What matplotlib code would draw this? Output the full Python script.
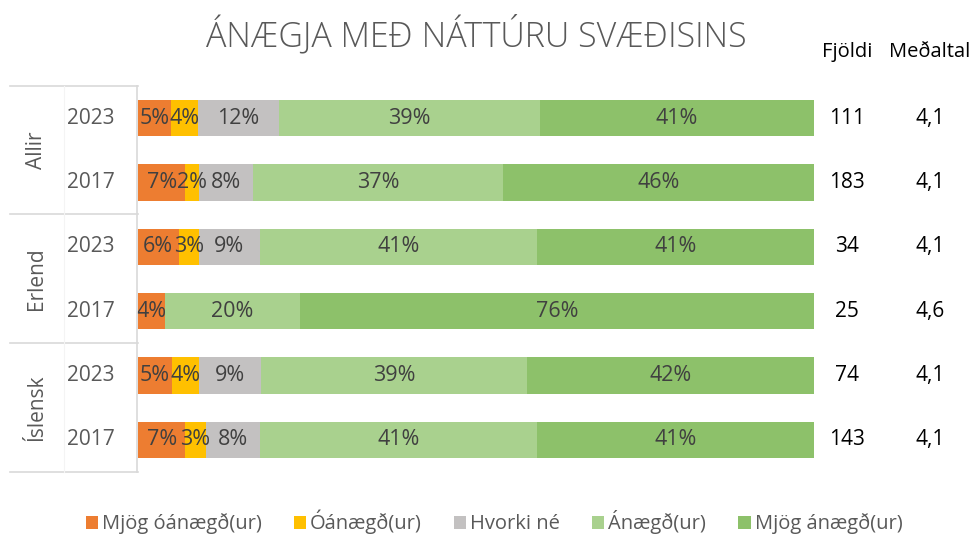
import matplotlib
matplotlib.use("Agg")
import matplotlib.pyplot as plt
from matplotlib.lines import Line2D

groups = ["Allir", "Erlend", "Íslensk"]
years = ["2023", "2017", "2023", "2017", "2023", "2017"]
series = ["Mjög óánægð(ur)", "Óánægð(ur)", "Hvorki né", "Ánægð(ur)", "Mjög ánægð(ur)"]
mjog_oanaegd = [5, 7, 6, 4, 5, 7]
oanaegd = [4, 2, 3, 0, 4, 3]
hvorki = [12, 8, 9, 0, 9, 8]
anaegd = [39, 37, 41, 20, 39, 41]
mjog_anaegd = [41, 46, 41, 76, 42, 41]
fjoldi = [111, 183, 34, 25, 74, 143]
medaltal = ["4,1", "4,1", "4,1", "4,6", "4,1", "4,1"]

colors = ["#ED7D31", "#FFC000", "#C3C1C1", "#A9D18E", "#8DC16A"]
FONT = ["Open Sans", "DejaVu Sans"]
plt.rcParams["font.family"] = FONT

W, H = 977, 536
fig = plt.figure(figsize=(W / 100, H / 100), dpi=100)
ax_l, ax_r, ax_t, ax_b = 138, 814, 86, 472
ax = fig.add_axes([ax_l / W, 1 - ax_b / H, (ax_r - ax_l) / W, (ax_b - ax_t) / H])

data = [mjog_oanaegd, oanaegd, hvorki, anaegd, mjog_anaegd]
n = len(years)
totals = [sum(d[i] for d in data) for i in range(n)]
ypos = list(range(n))
left = [0.0] * n
for s, (vals, col) in enumerate(zip(data, colors)):
    widths = [vals[i] / totals[i] * 100 for i in range(n)]
    ax.barh(ypos, widths, left=left, height=0.56, color=col, linewidth=0, label=series[s])
    for i in range(n):
        if vals[i] > 0:
            ax.text(left[i] + widths[i] / 2, ypos[i], f"{vals[i]}%", ha="center", va="center",
                    fontsize=15.5, color="#404040")
    left = [left[i] + widths[i] for i in range(n)]

ax.set_xlim(0, 100)
ax.set_ylim(n - 0.5, -0.5)
ax.axis("off")

line_col = "#D9D9D9"
for yl in [86, 214, 343, 472]:
    fig.add_artist(Line2D([10 / W, 138 / W], [1 - yl / H] * 2, color=line_col, lw=1.2))
fig.add_artist(Line2D([137 / W] * 2, [1 - 86 / H, 1 - 472 / H], color=line_col, lw=1.2))
fig.add_artist(Line2D([64 / W] * 2, [1 - 86 / H, 1 - 472 / H], color="#F4F4F4", lw=0.8))

for i, yr in enumerate(years):
    yfig = ax.transData.transform((0, i))[1] / H
    fig.text(91 / W, yfig, yr, ha="center", va="center", fontsize=15, color="#595959")
    fig.text(847 / W, yfig, str(fjoldi[i]), ha="center", va="center", fontsize=15, color="black")
    fig.text(930 / W, yfig, medaltal[i], ha="center", va="center", fontsize=15, color="black")

for g, name in enumerate(groups):
    yfig = ax.transData.transform((0, 2 * g + 0.5))[1] / H
    fig.text(37 / W, yfig, name, ha="center", va="center", rotation=90, fontsize=15, color="#595959")

fig.text(847 / W, 1 - 52 / H, "Fjöldi", ha="center", va="center", fontsize=14.5, color="black")
fig.text(930 / W, 1 - 52 / H, "Meðaltal", ha="center", va="center", fontsize=14.5, color="black")

fig.text(476 / W, 1 - 35 / H, "ÁNÆGJA MEÐ NÁTTÚRU SVÆÐISINS", ha="center", va="center",
         fontsize=24.5, color="#595959", fontweight="light")

handles, labels = ax.get_legend_handles_labels()
fig.legend(handles, labels, loc="center", bbox_to_anchor=(494 / W, 1 - 522 / H), ncol=5,
           frameon=False, fontsize=14.5, labelcolor="#595959", handlelength=0.6, handleheight=0.6,
           handletextpad=0.2, columnspacing=1.6)

fig.savefig("out.png", dpi=100)
